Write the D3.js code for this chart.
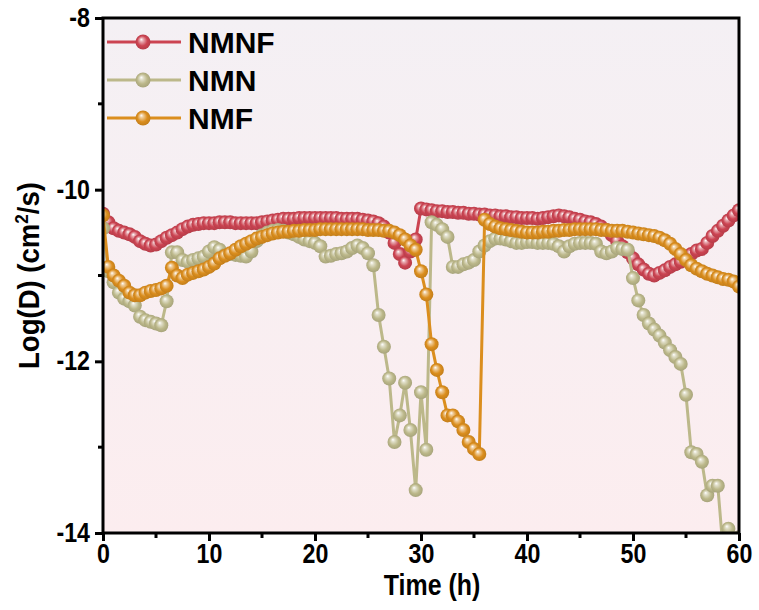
<!DOCTYPE html>
<html>
<head>
<meta charset="utf-8">
<script src="https://cdn.jsdelivr.net/npm/d3@7"></script>
<style>
  body { margin: 0; background: #fff; }
  svg text { fill: #000; }
</style>
</head>
<body>
<svg id="chart" width="759" height="610"></svg>
<script>
// sampling grid (h), one reading every half hour
const hours = d3.range(0, 60.001, 0.5);

const seriesNames = ["NMNF", "NMN", "NMF"];
const seriesColors = ["#cc4452", "#bcb88a", "#db8e1e"];

const nmnf = [-10.28, -10.38, -10.45, -10.48, -10.50, -10.52, -10.55, -10.60, -10.63, -10.65,
  -10.64, -10.60, -10.56, -10.53, -10.50, -10.46, -10.43, -10.41, -10.40, -10.39,
  -10.39, -10.39, -10.38, -10.38, -10.38, -10.39, -10.39, -10.39, -10.39, -10.39,
  -10.38, -10.37, -10.36, -10.35, -10.34, -10.34, -10.34, -10.33, -10.33, -10.33,
  -10.33, -10.33, -10.33, -10.33, -10.33, -10.34, -10.34, -10.34, -10.34, -10.35,
  -10.36, -10.37, -10.39, -10.43, -10.50, -10.62, -10.75, -10.85, -10.72, -10.58,
  -10.22, -10.23, -10.24, -10.25, -10.25, -10.26, -10.26, -10.27, -10.27, -10.28,
  -10.28, -10.29, -10.29, -10.30, -10.30, -10.31, -10.31, -10.32, -10.32, -10.33,
  -10.33, -10.33, -10.34, -10.33, -10.32, -10.31, -10.30, -10.31, -10.32, -10.34,
  -10.35, -10.37, -10.38, -10.40, -10.43, -10.47, -10.53, -10.60, -10.66, -10.73,
  -10.80, -10.87, -10.93, -10.98, -11.00, -10.97, -10.94, -10.90, -10.87, -10.84,
  -10.80, -10.75, -10.71, -10.69, -10.62, -10.54, -10.48, -10.42, -10.36, -10.30,
  -10.24];

const nmn = [-10.45, -10.95, -11.08, -11.20, -11.27, -11.30, -11.35, -11.48, -11.52, -11.54,
  -11.56, -11.58, -11.30, -10.73, -10.73, -10.82, -10.84, -10.82, -10.80, -10.78,
  -10.72, -10.67, -10.70, -10.76, -10.75, -10.76, -10.77, -10.78, -10.72, -10.60,
  -10.53, -10.50, -10.48, -10.47, -10.48, -10.50, -10.52, -10.55, -10.58, -10.60,
  -10.62, -10.66, -10.78, -10.77, -10.75, -10.74, -10.72, -10.68, -10.65, -10.68,
  -10.74, -10.88, -11.46, -11.83, -12.20, -12.94, -12.63, -12.25, -12.80, -13.50,
  -12.36, -13.03, -10.38, -10.41, -10.46, -10.55, -10.90, -10.90, -10.87, -10.85,
  -10.82, -10.72, -10.65, -10.60, -10.57, -10.57, -10.58, -10.60, -10.62, -10.62,
  -10.61, -10.61, -10.62, -10.62, -10.62, -10.63, -10.66, -10.72, -10.66, -10.63,
  -10.62, -10.62, -10.62, -10.63, -10.72, -10.74, -10.72, -10.68, -10.69, -10.70,
  -11.03, -11.29, -11.46, -11.56, -11.63, -11.70, -11.78, -11.87, -11.95, -12.03,
  -12.39, -13.06, -13.08, -13.17, -13.56, -13.45, -13.45, -14.20, -13.95, -14.20,
  -14.05];

const nmf = [-10.30, -10.90, -11.00, -11.06, -11.12, -11.20, -11.23, -11.23, -11.20, -11.18,
  -11.17, -11.15, -11.12, -10.91, -11.00, -11.03, -10.99, -10.97, -10.95, -10.93,
  -10.90, -10.86, -10.80, -10.77, -10.74, -10.70, -10.66, -10.63, -10.60, -10.57,
  -10.55, -10.53, -10.51, -10.50, -10.49, -10.49, -10.48, -10.48, -10.47, -10.47,
  -10.47, -10.46, -10.46, -10.46, -10.46, -10.46, -10.46, -10.46, -10.46, -10.46,
  -10.47, -10.47, -10.47, -10.48, -10.48, -10.50, -10.53, -10.58, -10.65, -10.70,
  -10.95, -11.22, -11.80, -12.10, -12.36, -12.63, -12.63, -12.70, -12.80, -12.94,
  -13.02, -13.08, -10.35, -10.40, -10.43, -10.45, -10.46, -10.47, -10.48, -10.49,
  -10.50, -10.50, -10.50, -10.49, -10.49, -10.48, -10.48, -10.47, -10.47, -10.46,
  -10.46, -10.46, -10.46, -10.46, -10.47, -10.47, -10.48, -10.48, -10.48, -10.49,
  -10.50, -10.51, -10.52, -10.53, -10.54, -10.56, -10.59, -10.63, -10.69, -10.75,
  -10.82, -10.88, -10.92, -10.95, -10.98, -11.00, -11.02, -11.04, -11.05, -11.07,
  -11.13];

const xTicks = [0, 10, 20, 30, 40, 50, 60];
const yTicks = [-8, -10, -12, -14];

const allSeries = [nmnf, nmn, nmf];

const svg = d3.select("#chart");
const plotLeft = 103, plotRight = 739, plotTop = 18, plotBottom = 533;
const squeeze = 0.86; // labels in the original look condensed

const x = d3.scaleLinear().domain([0, 60]).range([plotLeft, plotRight]);
const y = d3.scaleLinear().domain([-14, -8]).range([plotBottom, plotTop]);

const defs = svg.append("defs");

// plot background, pale lilac at top to pink at the bottom
const bg = defs.append("linearGradient").attr("id", "bg")
    .attr("x1", 0).attr("y1", 0).attr("x2", 0).attr("y2", 1);
bg.append("stop").attr("offset", "0%").attr("stop-color", "#f4f0f4");
bg.append("stop").attr("offset", "100%").attr("stop-color", "#fcedef");

defs.append("clipPath").attr("id", "plotclip")
  .append("rect").attr("x", plotLeft).attr("y", plotTop)
  .attr("width", plotRight - plotLeft).attr("height", plotBottom - plotTop);

// shiny ball marker for each colour
seriesColors.forEach(function(c, i) {
    const g = defs.append("radialGradient").attr("id", "ball" + i)
        .attr("cx", "50%").attr("cy", "50%").attr("r", "55%")
        .attr("fx", "38%").attr("fy", "32%");
    g.append("stop").attr("offset", "0%").attr("stop-color", "#ffffff");
    g.append("stop").attr("offset", "22%").attr("stop-color", d3.interpolateRgb(c, "#fff")(0.55));
    g.append("stop").attr("offset", "60%").attr("stop-color", c);
    g.append("stop").attr("offset", "100%").attr("stop-color", d3.color(c).darker(0.4));
});

svg.append("rect")
    .attr("x", plotLeft).attr("y", plotTop)
    .attr("width", plotRight - plotLeft).attr("height", plotBottom - plotTop)
    .attr("fill", "url(#bg)");

// axes
const yAxis = d3.axisLeft(y).tickValues(yTicks).tickSize(8).tickPadding(5)
    .tickFormat(d => d);
const xAxis = d3.axisBottom(x).tickValues(xTicks).tickSize(8).tickPadding(1);

const gy = svg.append("g").attr("transform", `translate(${plotLeft},0)`).call(yAxis);
const gx = svg.append("g").attr("transform", `translate(0,${plotBottom})`).call(xAxis);

[gx, gy].forEach(function(g) {
    g.select(".domain").remove();
    g.selectAll(".tick line").attr("stroke", "#000").attr("stroke-width", 3);
    g.selectAll(".tick text")
        .style("font-family", "Arial, 'Liberation Sans', sans-serif")
        .style("font-weight", "bold")
        .style("font-size", "27px")
        .attr("transform", `scale(${squeeze},1)`);
});
gx.selectAll(".tick text").attr("dy", "0.78em");
gy.selectAll(".tick text").attr("x", -13 / squeeze);

// minor ticks
svg.append("g").selectAll("line")
    .data([5, 15, 25, 35, 45, 55])
    .join("line")
    .attr("x1", d => x(d)).attr("x2", d => x(d))
    .attr("y1", plotBottom).attr("y2", plotBottom + 5)
    .attr("stroke", "#000").attr("stroke-width", 3);
svg.append("g").selectAll("line")
    .data([-9, -11, -13])
    .join("line")
    .attr("y1", d => y(d)).attr("y2", d => y(d))
    .attr("x1", plotLeft).attr("x2", plotLeft - 5)
    .attr("stroke", "#000").attr("stroke-width", 3);

// series
const plot = svg.append("g").attr("clip-path", "url(#plotclip)");
const line = d3.line().x((d, i) => x(hours[i])).y(d => y(d));

allSeries.forEach(function(vals, si) {
    const g = plot.append("g");
    g.append("path")
        .datum(vals)
        .attr("d", line)
        .attr("fill", "none")
        .attr("stroke", seriesColors[si])
        .attr("stroke-width", 3)
        .attr("stroke-linejoin", "round");
    g.selectAll("circle")
        .data(vals)
        .join("circle")
        .attr("cx", (d, i) => x(hours[i]))
        .attr("cy", d => y(d))
        .attr("r", 7)
        .attr("fill", "url(#ball" + si + ")");
});

// frame
svg.append("rect")
    .attr("x", plotLeft).attr("y", plotTop)
    .attr("width", plotRight - plotLeft).attr("height", plotBottom - plotTop)
    .attr("fill", "none").attr("stroke", "#000").attr("stroke-width", 3);

// legend
const legend = svg.append("g");
seriesNames.forEach(function(name, i) {
    const ly = 42 + i * 38;
    legend.append("line")
        .attr("x1", 107).attr("x2", 181).attr("y1", ly).attr("y2", ly)
        .attr("stroke", seriesColors[i]).attr("stroke-width", 3);
    legend.append("circle")
        .attr("cx", 143).attr("cy", ly).attr("r", 7.5)
        .attr("fill", "url(#ball" + i + ")");
    legend.append("text")
        .attr("x", 188).attr("y", ly + 11)
        .style("font-family", "Arial, 'Liberation Sans', sans-serif")
        .style("font-weight", "bold")
        .style("font-size", "30px")
        .text(name);
});

// axis titles
svg.append("text")
    .attr("transform", `translate(432,595) scale(${squeeze},1)`)
    .attr("text-anchor", "middle")
    .style("font-family", "Arial, 'Liberation Sans', sans-serif")
    .style("font-weight", "bold")
    .style("font-size", "29px")
    .text("Time (h)");

const yt = svg.append("text")
    .attr("transform", `translate(39,${(plotTop + plotBottom) / 2}) rotate(-90) scale(0.95,1)`)
    .attr("text-anchor", "middle")
    .style("font-family", "Arial, 'Liberation Sans', sans-serif")
    .style("font-weight", "bold")
    .style("font-size", "29px");
yt.append("tspan").text("Log(D) (cm");
yt.append("tspan").attr("dy", -11).style("font-size", "18px").text("2");
yt.append("tspan").attr("dy", 11).text("/s)");
</script>
</body>
</html>
